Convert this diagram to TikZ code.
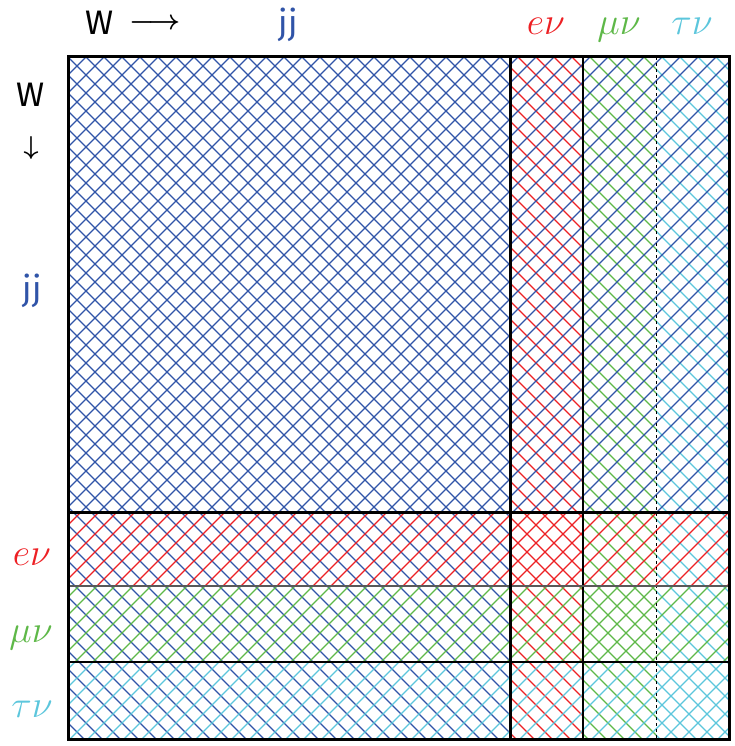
\documentclass[tikz,border=0pt]{standalone}
\usepackage{fix-cm}
\usepackage{amsmath}
\usepackage{fontspec}
\setsansfont{Fira Sans}
\definecolor{jjblue}{RGB}{48,84,168}
\definecolor{enured}{RGB}{237,32,36}
\definecolor{munugreen}{RGB}{94,184,72}
\definecolor{taunucyan}{RGB}{92,198,220}

\begin{document}
\begin{tikzpicture}[x=1pt, y=-1pt,
    hatch/.style={line width=1.1pt},
    lbl/.style={anchor=base, font=\sffamily\fontsize{34}{40}\selectfont},
    mlbl/.style={anchor=base, font=\fontsize{38}{42}\selectfont}]
    \useasboundingbox (0,0) rectangle (734,746);
    % column hatching (\ lines)
    \foreach \xa/\xb/\col in {68/510/jjblue, 510/583/enured, 583/656/munugreen, 656/729/taunucyan} {
        \begin{scope}
            \clip (\xa,57) rectangle (\xb,739);
            \foreach \c in {-673,-655,...,677}
                \draw[hatch, \col] (\c+57,57) -- (\c+739,739);
        \end{scope}
    }
    % row hatching (/ lines)
    \foreach \ya/\yb/\col in {57/512/jjblue, 512/586/enured, 586/662/munugreen, 662/739/taunucyan} {
        \begin{scope}
            \clip (68,\ya) rectangle (729,\yb);
            \foreach \c in {125,143,...,1475}
                \draw[hatch, \col] (\c-57,57) -- (\c-739,739);
        \end{scope}
    }
    % grid lines
    \draw[line width=1.2pt] (583,57) -- (583,739);
    \draw[line width=1pt, dashed] (656,57) -- (656,739);
    \draw[line width=2.5pt, black!65] (68,586) -- (729,586);
    \draw[line width=1.2pt] (68,662) -- (729,662);
    \draw[line width=3pt] (510,57) -- (510,739);
    \draw[line width=3pt] (68,512) -- (729,512);
    \draw[line width=3pt] (68,57) rectangle (729,739);
    % top labels
    \node[lbl] (wtop) at (100,35) {W};
    \node[anchor=base, font=\fontsize{28}{32}\selectfont] (arrtop) at (155,30) {$\boldsymbol{\longrightarrow}$};
    \node[lbl, jjblue] (jjtop) at (288,35) {jj};
    \node[mlbl, enured] (enutop) at (546,35) {$e\nu$};
    \node[mlbl, munugreen] (munutop) at (619,35) {$\mu\nu$};
    \node[mlbl, taunucyan] (taunutop) at (692,35) {$\tau\nu$};
    % left labels
    \node[lbl] (wleft) at (31,107) {W};
    \node[font=\fontsize{26}{28}\selectfont] (arrleft) at (31,148) {$\boldsymbol{\downarrow}$};
    \node[lbl, jjblue] (jjleft) at (32,300) {jj};
    \node[mlbl, enured] (enuleft) at (32,565) {$e\nu$};
    \node[mlbl, munugreen] (munuleft) at (31,642) {$\mu\nu$};
    \node[mlbl, taunucyan] (taunuleft) at (32,717) {$\tau\nu$};
\end{tikzpicture}
\end{document}
